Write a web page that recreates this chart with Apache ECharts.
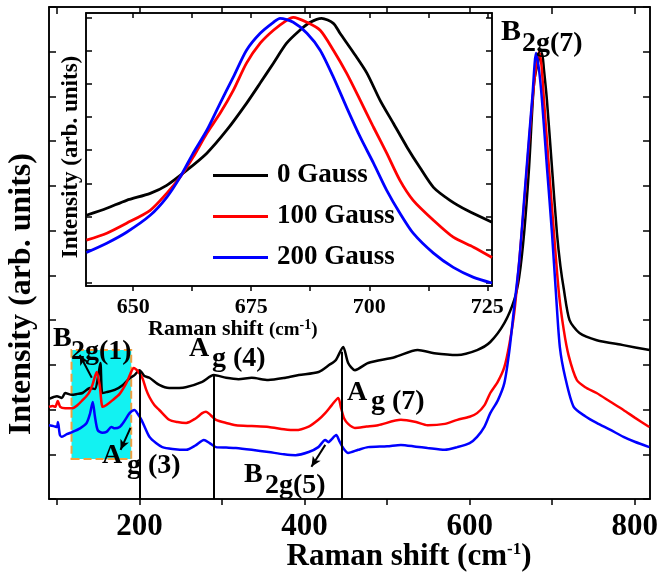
<!DOCTYPE html>
<html><head><meta charset="utf-8">
<script src="https://cdn.jsdelivr.net/npm/echarts@6/dist/echarts.min.js"></script>
<style>html,body{margin:0;padding:0;background:#fff}#c{width:661px;height:572px}</style>
</head><body><div id="c"></div>
<script>
// ---------- data ----------
const seriesNames = ['0 Gauss', '100 Gauss', '200 Gauss'];
const mainXTicks = [100, 200, 300, 400, 500, 600, 700, 800];
const mainXLabels = [200, 400, 600, 800];
const insetXTicks = [650, 662.5, 675, 687.5, 700, 712.5, 725];
const insetXLabels = [650, 675, 700, 725];
const insetYTicks = [0, 1, 2, 3, 4, 5, 6, 7, 8];

const mainBlack = [[90.4,2.24],[96,2.28],[100,2.30],[106,2.26],[110,2.37],[118,2.33],[125,2.35],[131,2.37],[140,2.48],[146,2.46],[150,2.75],[152.7,3.04],[155,2.37],[160,2.39],[170,2.44],[180,2.55],[188,2.70],[194,2.77],[200,2.88],[206,2.75],[212,2.71],[224,2.55],[236,2.48],[256,2.50],[276,2.62],[290,2.77],[305,2.71],[320,2.68],[336,2.71],[356,2.66],[377,2.71],[393,2.77],[417,2.84],[430,3.00],[438,3.11],[446.8,3.40],[452.8,3.04],[461,2.88],[477,3.04],[509,3.17],[537,3.33],[557,3.26],[585,3.22],[609,3.33],[625,3.51],[642,3.93],[654,4.45],[660,4.96],[666,5.95],[672,7.42],[678,9.30],[684,9.85],[687.6,9.97],[690,9.6],[693.6,8.92],[699.7,7.42],[705.7,5.95],[710,5.2],[714,4.7],[721,4.00],[733,3.71],[754,3.55],[786,3.44],[818,3.33]];
const mainRed = [[90.4,2.06],[95,2.08],[98,2.06],[101,2.19],[104,2.06],[110,2.03],[119,2.03],[125,2.10],[131,2.21],[138,2.35],[143,2.55],[148.2,2.84],[151.8,2.55],[155.4,2.06],[160,2.10],[167.5,2.21],[176,2.35],[184,2.59],[189,2.80],[193,2.93],[198,2.86],[203.6,2.70],[208,2.45],[212,2.28],[218,2.10],[224,1.99],[236,1.77],[246,1.72],[256.6,1.70],[268,1.80],[276,1.92],[280.6,1.95],[286,1.88],[292.7,1.77],[305,1.70],[316.8,1.65],[336,1.63],[356.5,1.61],[375,1.56],[389,1.54],[405,1.62],[416.7,1.77],[425,1.92],[433,2.10],[440.8,2.26],[444,2.05],[448,1.80],[452.8,1.68],[461,1.59],[475,1.62],[489,1.65],[516.7,1.77],[535,1.72],[549,1.65],[570,1.68],[585,1.77],[600,1.84],[609,1.92],[618,2.10],[625,2.37],[634,2.62],[642,2.95],[648,3.45],[654,4.16],[660,5.3],[666,6.6],[672,8.0],[676,8.9],[680,9.6],[684,10.0],[687,9.7],[690,8.92],[696,7.42],[702.1,5.95],[708.1,4.61],[714,3.78],[720,3.2],[729.8,2.66],[740,2.50],[753.8,2.37],[770,2.18],[786.3,1.99],[800,1.82],[817.6,1.61]];
const mainBlue = [[90.4,1.65],[96,1.63],[100,1.61],[101.2,1.72],[103.6,1.43],[106,1.39],[112,1.45],[119,1.50],[128,1.58],[136,1.70],[140,1.90],[143.4,2.17],[146,1.85],[149.4,1.54],[155,1.48],[160,1.50],[166,1.61],[170,1.58],[176,1.61],[182,1.75],[188,1.92],[194,1.99],[198,1.90],[202.4,1.77],[207,1.58],[212,1.39],[220,1.25],[227.7,1.16],[240,1.12],[256.6,1.10],[268,1.20],[278,1.32],[285,1.25],[292.7,1.16],[305,1.15],[316.8,1.14],[336,1.10],[356.5,1.05],[375,1.00],[389,0.98],[405,1.05],[416.7,1.16],[425,1.32],[429,1.27],[432,1.32],[438.4,1.43],[442,1.30],[446.8,1.14],[452.8,1.03],[465,1.10],[477,1.16],[500,1.18],[516.7,1.21],[535,1.17],[549,1.14],[570,1.10],[585,1.16],[600,1.25],[609,1.39],[618,1.62],[625,1.92],[634,2.20],[642,2.59],[648,3.3],[654,4.3],[660,5.3],[666,6.7],[672,8.1],[676,9.0],[680.4,9.97],[684,9.6],[687.6,8.92],[693.6,7.42],[699.7,5.95],[704.5,4.61],[709.3,3.39],[716,2.7],[726,2.06],[740,1.85],[753.8,1.70],[770,1.55],[786.3,1.39],[800,1.28],[817.6,1.16]];

const insetBlack = [[640.1,2.04],[644.4,2.25],[648.6,2.49],[653.6,2.70],[657.1,2.94],[661.3,3.39],[665.6,3.91],[669.8,4.60],[674.0,5.41],[676.9,6.02],[679.7,6.62],[682.5,7.22],[685.3,7.61],[687.5,7.85],[689.9,7.97],[692.4,7.82],[693.8,7.52],[696.6,6.95],[699.5,6.32],[702.3,5.50],[705.1,4.81],[708.0,4.09],[710.8,3.46],[713.6,2.88],[717.1,2.49],[720.7,2.19],[726,1.83]];
const insetRed = [[640.1,1.29],[644.4,1.50],[648.6,1.80],[653.6,2.19],[657.1,2.70],[659.9,3.18],[662.7,3.79],[665.6,4.51],[668.4,5.11],[671.2,5.80],[674.0,6.62],[676.9,7.22],[679.7,7.61],[682.5,7.91],[683.9,8.0],[686.8,7.85],[689.6,7.61],[692.4,7.01],[695.2,6.32],[698.1,5.50],[700.9,4.69],[703.7,3.91],[706.5,3.09],[709.3,2.49],[713.6,1.89],[717.8,1.38],[722.1,1.08],[726,0.77]];
const insetBlue = [[640.1,0.92],[644.4,1.20],[648.6,1.53],[653.6,2.04],[657.1,2.58],[659.9,3.18],[662.7,3.91],[665.6,4.60],[668.4,5.41],[671.2,6.20],[674.0,7.01],[676.9,7.52],[679.7,7.85],[681.1,7.97],[683.9,7.85],[686.8,7.52],[689.6,7.01],[692.4,6.20],[695.2,5.29],[698.1,4.39],[700.9,3.61],[703.7,2.79],[706.5,2.10],[709.3,1.50],[713.6,0.90],[717.8,0.47],[722.1,0.17],[726,0.0]];

// annotation geometry in data units
const guideX = [200.8, 290, 445];
const guideTop = [2.88, 2.77, 3.29];
const arrowFrom = [[142.2, 2.71], [189.1, 1.59], [425.1, 1.21]];
const arrowTo = [[127.7, 3.22], [177.1, 1.10], [408.3, 0.72]];
const boxCorners = [[117.7, 0.894], [190, 3.33]];

// ---------- chart ----------
const FONT = '"Liberation Serif","Times New Roman",serif';
const colors = ['#000000', '#ff0000', '#0000ff'];
const chart = echarts.init(document.getElementById('c'));

function xAxisBase(grid, pos, min, max, ticks, labels, inside, tickLen, fs, margin) {
  return {
    type: 'value', gridIndex: grid, position: pos, min: min, max: max,
    axisLine: {show: true, onZero: false, lineStyle: {color: '#000', width: 1.5}},
    axisTick: {show: true, inside: inside, length: tickLen, customValues: ticks, lineStyle: {color: '#000', width: 1.5}},
    axisLabel: labels ? {show: true, customValues: labels, color: '#000', fontSize: fs, fontWeight: 'bold', fontFamily: FONT, margin: margin} : {show: false},
    splitLine: {show: false}
  };
}
function yAxisBase(grid, pos, min, max, ticks, tickLen) {
  return {
    type: 'value', gridIndex: grid, position: pos, min: min, max: max,
    axisLine: {show: true, onZero: false, lineStyle: {color: '#000', width: 1.5}},
    axisTick: {show: true, inside: true, length: tickLen, customValues: ticks, lineStyle: {color: '#000', width: 1.5}},
    axisLabel: {show: false},
    splitLine: {show: false}
  };
}
const mainYTicks = [0,1,2,3,4,5,6,7,8,9,10,11];

function line(name, data, color, xi, yi, w, z) {
  return {type: 'line', name: name, data: data, xAxisIndex: xi, yAxisIndex: yi, showSymbol: false, symbol: 'none',
    smooth: 0.25, lineStyle: {color: color, width: w}, itemStyle: {color: color}, z: z, animation: false, silent: true};
}

function t(x, y, text, size, extra) {
  return Object.assign({type: 'text', x: x, y: y, z: 100, silent: true,
    style: {text: text, font: 'bold ' + size + 'px ' + FONT, fill: '#000', textAlign: 'left', textVerticalAlign: 'middle', verticalAlign: 'middle'}}, extra || {});
}

const markLines = [];
guideX.forEach((x, i) => markLines.push([{coord: [x, guideTop[i]], symbol: 'none'}, {coord: [x, 0], symbol: 'none'}]));
arrowFrom.forEach((p, i) => markLines.push([{coord: p, symbol: 'none'}, {coord: arrowTo[i], symbol: 'arrow', symbolSize: [7, 10]}]));

const option = {
  backgroundColor: '#fff',
  animation: false,
  grid: [
    {left: 49, top: 7, width: 605, height: 492, show: true, backgroundColor: '#fff', borderColor: '#000', borderWidth: 1.5, z: 0},
    {left: 86, top: 13, width: 406, height: 273, show: true, backgroundColor: '#fff', borderColor: '#000', borderWidth: 1.5, z: 5}
  ],
  xAxis: [
    xAxisBase(0, 'bottom', 90.4, 818.5, mainXTicks, mainXLabels, false, 6, 31, 12),
    xAxisBase(0, 'top', 90.4, 818.5, mainXTicks, null, true, 7),
    Object.assign(xAxisBase(1, 'bottom', 640, 726, insetXTicks, insetXLabels, false, 5, 22, 10), {z: 6}),
    Object.assign(xAxisBase(1, 'top', 640, 726, insetXTicks, null, true, 5), {z: 6})
  ],
  yAxis: [
    yAxisBase(0, 'left', 0, 11, mainYTicks, 7),
    yAxisBase(0, 'right', 0, 11, mainYTicks, 7),
    Object.assign(yAxisBase(1, 'left', -0.09, 8.13, insetYTicks, 6), {z: 6}),
    Object.assign(yAxisBase(1, 'right', -0.09, 8.13, insetYTicks, 6), {z: 6})
  ],
  legend: {
    data: seriesNames, orient: 'vertical', left: 213, top: 162, padding: 0, itemWidth: 55, itemHeight: 3, itemGap: 14,
    icon: 'rect', selectedMode: false, z: 20,
    textStyle: {fontSize: 27, fontWeight: 'bold', fontFamily: FONT, color: '#000', lineHeight: 27, padding: [0, 0, 0, 4]}
  },
  series: [
    {type: 'line', name: 'box', data: [], xAxisIndex: 0, yAxisIndex: 0, z: 1, silent: true,
      markArea: {silent: true, itemStyle: {color: '#12f2f2', borderColor: '#f0a040', borderWidth: 2, borderType: 'dashed'},
        data: [[{coord: boxCorners[0]}, {coord: boxCorners[1]}]]}},
    line('main0', mainBlack, colors[0], 0, 0, 2.5, 3),
    line('main1', mainRed, colors[1], 0, 0, 2.5, 3),
    line('main2', mainBlue, colors[2], 0, 0, 2.5, 3),
    {type: 'line', name: 'guides', data: [], xAxisIndex: 0, yAxisIndex: 0, z: 4, silent: true,
      markLine: {silent: true, symbol: 'none', label: {show: false}, lineStyle: {color: '#000', width: 2, type: 'solid'},
        data: markLines}},
    line(seriesNames[0], insetBlack, colors[0], 2, 2, 2.8, 8),
    line(seriesNames[1], insetRed, colors[1], 2, 2, 2.8, 8),
    line(seriesNames[2], insetBlue, colors[2], 2, 2, 2.8, 8)
  ],
  graphic: [
    // axis titles
    t(409, 557, '', 31, {style: {text: '{a|Raman shift (cm}{s|-1}{a|)}', textAlign: 'center', textVerticalAlign: 'middle', verticalAlign: 'middle',
      rich: {a: {fontSize: 31, fontWeight: 'bold', fontFamily: FONT, fill: '#000', verticalAlign: 'bottom'},
             s: {fontSize: 17, fontWeight: 'bold', fontFamily: FONT, fill: '#000', verticalAlign: 'top'}}}}),
    t(22, 294, '', 32, {rotation: Math.PI / 2, style: {text: 'Intensity (arb. units)', font: 'bold 32px ' + FONT, fill: '#000', textAlign: 'center', textVerticalAlign: 'middle', verticalAlign: 'middle'}}),
    t(148, 329, '', 22, {style: {text: '{a|Raman shift }{b|(cm}{s|-1}{b|)}', textAlign: 'left', textVerticalAlign: 'middle', verticalAlign: 'middle',
      rich: {a: {fontSize: 22, fontWeight: 'bold', fontFamily: FONT, fill: '#000', verticalAlign: 'bottom'},
             b: {fontSize: 19, fontWeight: 'bold', fontFamily: FONT, fill: '#000', verticalAlign: 'bottom'},
             s: {fontSize: 14, fontWeight: 'bold', fontFamily: FONT, fill: '#000', verticalAlign: 'top'}}}}),
    t(71, 157, '', 23, {rotation: Math.PI / 2, style: {text: 'Intensity (arb. units)', font: 'bold 23px ' + FONT, fill: '#000', textAlign: 'center', textVerticalAlign: 'middle', verticalAlign: 'middle'}}),
    // peak labels
    t(53, 339, 'B', 28), t(71, 352, '2g(1)', 28),
    t(189, 349, 'A', 28), t(212, 359, 'g (4)', 28),
    t(347, 393, 'A', 28), t(371, 402, 'g (7)', 28),
    t(102, 456, 'A', 28), t(127, 466, 'g (3)', 28),
    t(244, 475, 'B', 28), t(265, 486, '2g(5)', 28),
    t(501, 32, 'B', 30), t(522, 44, '2g(7)', 28)
  ]
};
chart.setOption(option);
</script>
</body></html>
